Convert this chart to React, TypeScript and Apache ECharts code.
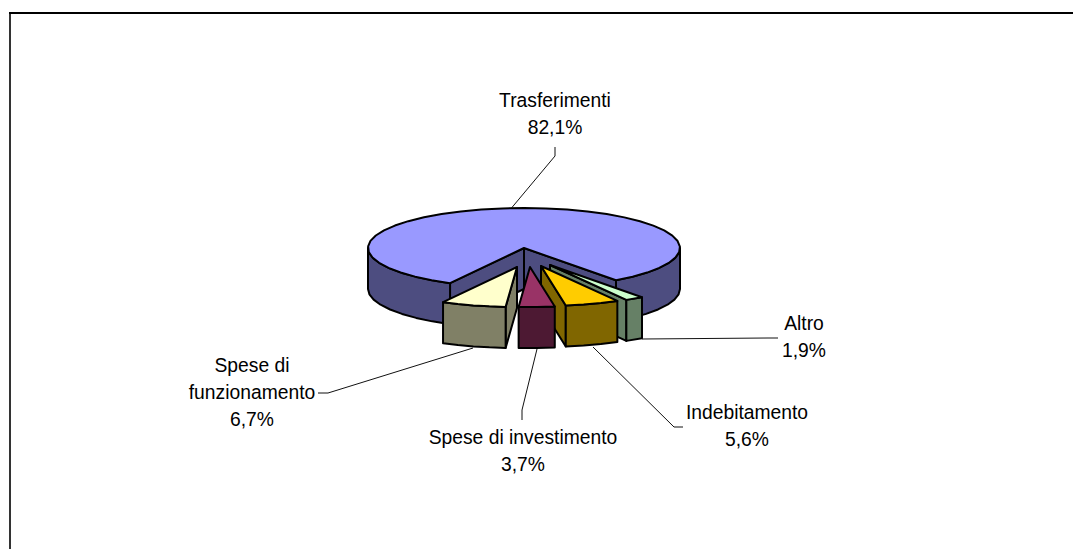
import React, { useEffect, useRef } from "react";
import * as echarts from "echarts";

const categories = ["Trasferimenti", "Altro", "Indebitamento", "Spese di investimento", "Spese di funzionamento"];
const values = [82.1, 1.9, 5.6, 3.7, 6.7];
const labelLines = [["Trasferimenti"], ["Altro"], ["Indebitamento"], ["Spese di investimento"], ["Spese di", "funzionamento"]];
const topColors = ["#9999ff", "#ccffcc", "#ffcc00", "#993366", "#ffffcc"];
const sideColors = ["#4d4d80", "#668066", "#806600", "#4d1933", "#808066"];

const CX = 524, CY = 248, RX = 156, RY = 40, DEPTH = 41;
const START_DEG = 208.3;
const explode = [[0, 0], [26, 17], [17, 18], [6, 19], [-7, 19]];
const leaders = [
  [[511.5, 208], [555, 156], [555, 147]],
  [[642, 339], [768, 338], [778, 338]],
  [[593, 347], [674, 427], [683, 427]],
  [[537, 349], [522, 410], [522, 420]],
  [[473, 348], [328, 393], [318, 393]],
];
const labelPos = [[555, 100], [804, 323], [747, 412], [523, 437], [252, 365]];
const LINE_H = 27;
const FONT = '19.3px "Liberation Sans", Arial, sans-serif';

const angleRanges = (() => {
  const total = values.reduce((a, b) => a + b, 0);
  let a = START_DEG;
  return values.map((v) => {
    const s = a;
    a += (v / total) * 360;
    return [s, a];
  });
})();

function pt(deg: number, ox: number, oy: number, z: number) {
  const r = (deg * Math.PI) / 180;
  return [CX + ox + RX * Math.sin(r), CY + oy - RY * Math.cos(r) + z];
}
function arc(a: number, b: number, ox: number, oy: number, z: number) {
  const pts: number[][] = [];
  const n = Math.max(1, Math.ceil((b - a) / 8));
  for (let i = 0; i <= n; i++) pts.push(pt(a + ((b - a) * i) / n, ox, oy, z));
  return pts;
}
function poly(points: number[][], fill: string) {
  return {
    type: "polygon",
    shape: { points },
    style: { fill, stroke: "#000", lineWidth: 2, lineJoin: "round" },
  };
}

function outerWalls(a: number, b: number, ox: number, oy: number, color: string) {
  const out: any[] = [];
  for (const [lo, hi] of [[90, 270], [450, 630]]) {
    const s = Math.max(a, lo), e = Math.min(b, hi);
    if (e > s) {
      const top = arc(s, e, ox, oy, 0);
      const bottom = arc(s, e, ox, oy, DEPTH).reverse();
      out.push(poly([...top, ...bottom], color));
    }
  }
  return out;
}

function renderItem(params: any) {
  const i = params.dataIndex;
  const [a, b] = angleRanges[i];
  const [ox, oy] = explode[i];
  const tip = [CX + ox, CY + oy];
  const tipB = [tip[0], tip[1] + DEPTH];
  const side = sideColors[i];
  const wall = (d: number) => {
    const p = pt(d, ox, oy, 0);
    return poly([tip, p, [p[0], p[1] + DEPTH], tipB], side);
  };
  const sinOf = (d: number) => Math.sin((d * Math.PI) / 180);
  const walls: any[] = [];
  if (sinOf(a) < 0) walls.push(wall(a));
  if (sinOf(b) > 0) walls.push(wall(b));
  const lines = [...labelLines[i], values[i].toFixed(1).replace(".", ",") + "%"];
  const children: any[] = [
    ...walls,
    ...outerWalls(a, b, ox, oy, side),
    poly([tip, ...arc(a, b, ox, oy, 0)], topColors[i]),
    {
      type: "polyline",
      shape: { points: leaders[i] },
      style: { fill: "none", stroke: "#111", lineWidth: 1 },
    },
    ...lines.map((t, k) => ({
      type: "text",
      style: {
        text: t,
        x: labelPos[i][0],
        y: labelPos[i][1] + k * LINE_H,
        font: FONT,
        fill: "#000",
        align: "center",
        verticalAlign: "middle",
      },
    })),
  ];
  return { type: "group", children };
}

export default function App() {
  const ref = useRef<HTMLDivElement>(null);
  useEffect(() => {
    document.body.style.margin = "0";
    const chart = echarts.init(ref.current!, undefined, { renderer: "svg" });
    chart.setOption({
      animation: false,
      backgroundColor: "#fff",
      graphic: [
        { type: "line", shape: { x1: 10, y1: 12, x2: 10, y2: 549 }, style: { stroke: "#333", lineWidth: 2 } },
        { type: "line", shape: { x1: 9, y1: 13, x2: 1073, y2: 13 }, style: { stroke: "#000", lineWidth: 2 } },
      ],
      series: [
        {
          type: "custom",
          coordinateSystem: "none",
          silent: true,
          clip: false,
          data: categories.map((c, i) => ({ name: c, value: [values[i]] })),
          renderItem,
        },
      ],
    });
    return () => chart.dispose();
  }, []);
  return <div ref={ref} style={{ width: 1073, height: 549 }} />;
}
